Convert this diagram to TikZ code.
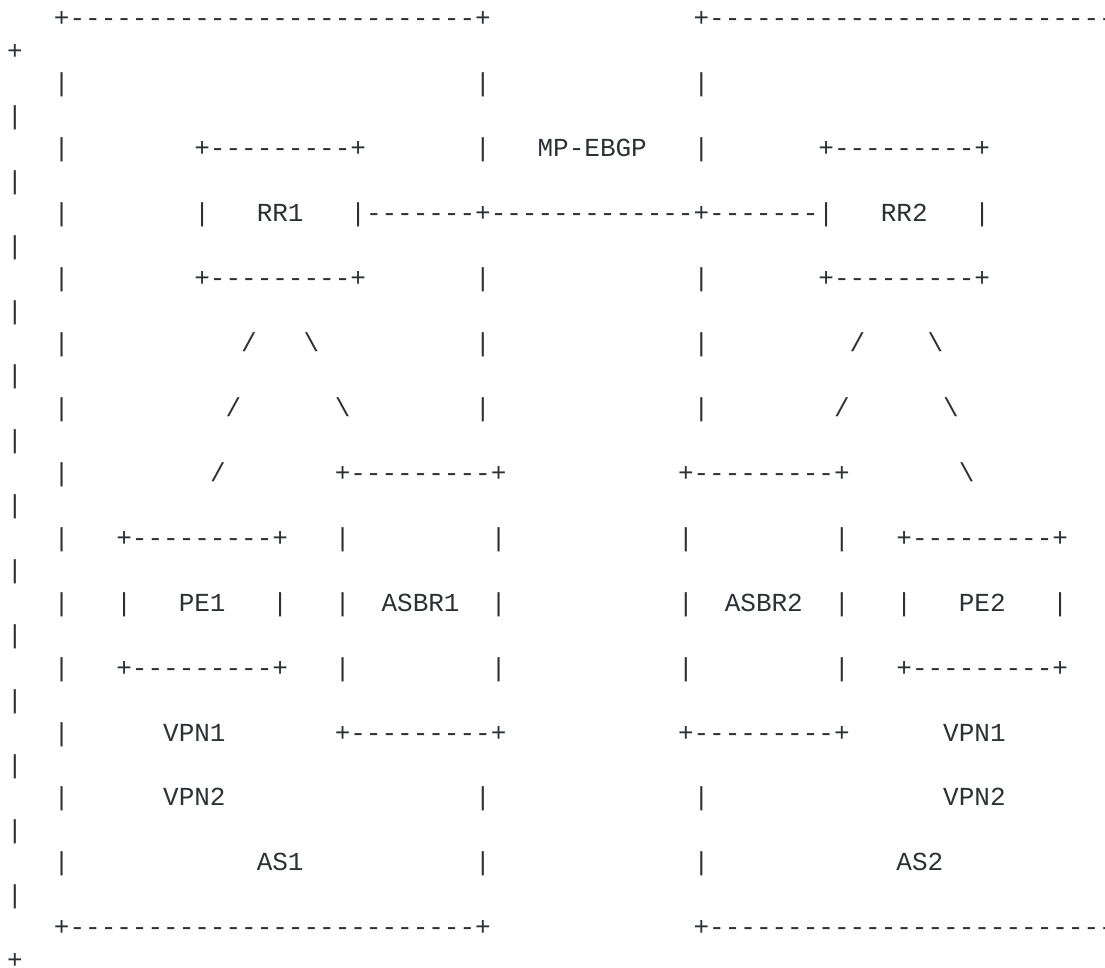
\documentclass[tikz,border=0pt]{standalone}
\usepackage{fontspec}
\setmonofont{Liberation Mono}
\definecolor{ink}{HTML}{2D3135}
\tikzset{ascii/.style={anchor=base west, inner sep=0pt, outer sep=0pt, text=ink,
    font=\ttfamily\fontsize{19.5pt}{19.5pt}\selectfont}}
\begin{document}
\begin{tikzpicture}[x=11.7pt, y=-24.345pt]
\useasboundingbox (-0.4615,-0.8287) rectangle (70.372,28.962);
\clip (-0.4615,-0.8287) rectangle (70.372,28.962);
% wrapped right edge
\node[ascii] (wraptop) at (0,1) {+};
\foreach \k in {3,5,...,27} \node[ascii] (wrap\k) at (0,\k) {|};
\node[ascii] (wrapbot) at (0,29) {+};
% AS1 frame
\node[ascii] (asAtop) at (3,0) {+--------------------------+};
\foreach \k in {2,4,...,26} \node[ascii] (asAleft\k) at (3,\k) {|};
\foreach \k in {2,4,8,10,12,24,26} \node[ascii] (asAright\k) at (30,\k) {|};
\node[ascii] (asAbot) at (3,28) {+--------------------------+};
\node[ascii] (as1) at (16,26) {AS1};
% AS2 frame
\node[ascii] (asBtop) at (44,0) {+--------------------------};
\foreach \k in {2,4,8,10,12,24,26} \node[ascii] (asBleft\k) at (44,\k) {|};
\node[ascii] (asBbot) at (44,28) {+--------------------------};
\node[ascii] (as2) at (57,26) {AS2};
% RR1
\node[ascii] (rr1top) at (12,4) {+---------+};
\node[ascii] (rr1l) at (12,6) {|};
\node[ascii] (rr1) at (16,6) {RR1};
\node[ascii] (rr1r) at (22,6) {|};
\node[ascii] (rr1bot) at (12,8) {+---------+};
% RR2
\node[ascii] (rr2top) at (52,4) {+---------+};
\node[ascii] (rr2l) at (52,6) {|};
\node[ascii] (rr2) at (56,6) {RR2};
\node[ascii] (rr2r) at (62,6) {|};
\node[ascii] (rr2bot) at (52,8) {+---------+};
% MP-EBGP session
\node[ascii] (ebgp) at (23,6) {-------+-------------+-------};
\node[ascii] (ebgplabel) at (34,4) {MP-EBGP};
% slashes below RR1
\node[ascii] (rr1sa) at (15,10) {/};
\node[ascii] (rr1sb) at (14,12) {/};
\node[ascii] (rr1sc) at (13,14) {/};
\node[ascii] (rr1ba) at (19,10) {\textbackslash};
\node[ascii] (rr1bb) at (21,12) {\textbackslash};
% slashes below RR2
\node[ascii] (rr2sa) at (54,10) {/};
\node[ascii] (rr2sb) at (53,12) {/};
\node[ascii] (rr2ba) at (59,10) {\textbackslash};
\node[ascii] (rr2bb) at (60,12) {\textbackslash};
\node[ascii] (rr2bc) at (61,14) {\textbackslash};
% PE1
\node[ascii] (pe1top) at (7,16) {+---------+};
\node[ascii] (pe1l) at (7,18) {|};
\node[ascii] (pe1) at (11,18) {PE1};
\node[ascii] (pe1r) at (17,18) {|};
\node[ascii] (pe1bot) at (7,20) {+---------+};
\node[ascii] (vpn1a) at (10,22) {VPN1};
\node[ascii] (vpn2a) at (10,24) {VPN2};
% ASBR1
\node[ascii] (asbr1top) at (21,14) {+---------+};
\foreach \k in {16,18,20} {
  \node[ascii] (asbr1l\k) at (21,\k) {|};
  \node[ascii] (asbr1r\k) at (31,\k) {|};
}
\node[ascii] (asbr1) at (24,18) {ASBR1};
\node[ascii] (asbr1bot) at (21,22) {+---------+};
% ASBR2
\node[ascii] (asbr2top) at (43,14) {+---------+};
\foreach \k in {16,18,20} {
  \node[ascii] (asbr2l\k) at (43,\k) {|};
  \node[ascii] (asbr2r\k) at (53,\k) {|};
}
\node[ascii] (asbr2) at (46,18) {ASBR2};
\node[ascii] (asbr2bot) at (43,22) {+---------+};
% PE2
\node[ascii] (pe2top) at (57,16) {+---------+};
\node[ascii] (pe2l) at (57,18) {|};
\node[ascii] (pe2) at (61,18) {PE2};
\node[ascii] (pe2r) at (67,18) {|};
\node[ascii] (pe2bot) at (57,20) {+---------+};
\node[ascii] (vpn1b) at (60,22) {VPN1};
\node[ascii] (vpn2b) at (60,24) {VPN2};
\end{tikzpicture}
\end{document}
